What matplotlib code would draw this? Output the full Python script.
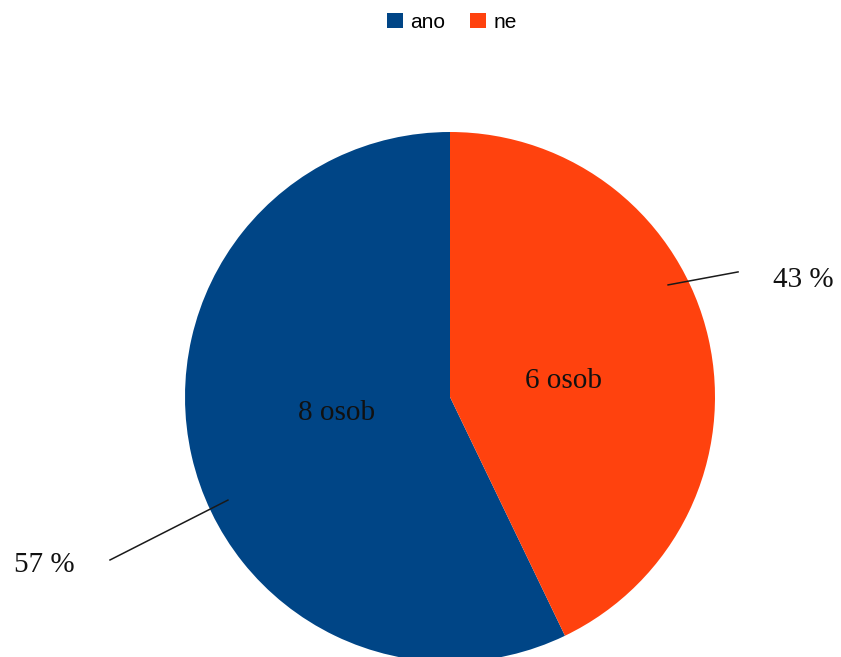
import matplotlib
matplotlib.use("Agg")
import matplotlib.pyplot as plt
from matplotlib.patches import Patch

categories = ["ano", "ne"]
counts = [8, 6]
colors = ["#004586", "#ff420e"]

W, H, DPI = 841, 657, 100
fig = plt.figure(figsize=(W / DPI, H / DPI), dpi=DPI)
ax = fig.add_axes([0, 0, 1, 1])

# pie centre and radius in pixels
cx, cy, r = 450, 397, 265

total = sum(counts)
wedges, texts, autotexts = ax.pie(
    counts,
    colors=colors,
    startangle=90,
    counterclock=True,
    radius=1.0,
    autopct=lambda p: f"{round(p * total / 100)} osob",
    pctdistance=0.44,
    textprops=dict(family="Liberation Serif", fontsize=21, color="#111111"),
    wedgeprops=dict(linewidth=0),
)
# pull the inner labels a little towards the horizontal centre line
for t in autotexts:
    x, y = t.get_position()
    t.set_position((x, y * 0.6))

ax.set_xlim(-cx / r, (W - cx) / r)
ax.set_ylim(-(H - cy) / r, cy / r)
ax.set_aspect("equal")
ax.axis("off")

# percentage call-outs with leader lines (start, end, text position)
callouts = [
    ((-0.838, -0.389), (-1.283, -0.615), (-1.53, -0.634)),
    ((0.823, 0.423), (1.087, 0.472), (1.335, 0.442)),
]
for cnt, (p0, p1, pt) in zip(counts, callouts):
    pct = round(100 * cnt / total)
    ax.plot([p0[0], p1[0]], [p0[1], p1[1]], color="#1a1a1a", lw=1.1)
    ax.text(pt[0], pt[1], f"{pct} %", ha="center", va="center",
            family="Liberation Serif", fontsize=21, color="#111111")

handles = [Patch(facecolor=c, edgecolor="none") for c in colors]
fig.legend(handles, categories, loc="center", bbox_to_anchor=(452 / W, 1 - 22 / H),
           ncol=2, frameon=False, handlelength=0.75, handleheight=0.75,
           handletextpad=0.35, columnspacing=1.2,
           prop=dict(family="Liberation Sans", size=15))

fig.savefig("out.png", dpi=DPI)
